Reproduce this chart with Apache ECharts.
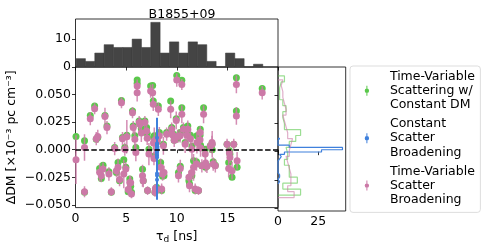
<!DOCTYPE html>
<html><head><meta charset="utf-8">
<script src="https://cdn.jsdelivr.net/npm/echarts@6/dist/echarts.min.js"></script>
<style>html,body{margin:0;padding:0;background:#fff}#c{width:490px;height:249px}</style>
</head><body><div id="c"></div>
<script>
// ---- data ----
const tauD = [0.05,0.89,0.89,1.46,1.89,2.05,2.38,2.72,2.55,2.91,3.11,3.54,3.87,4.04,4.2,4.54,4.64,4.77,4.97,5.2,
  5.36,5.53,4.87,5.63,5.7,5.86,5.96,6.09,6.09,6.29,6.36,6.62,6.69,6.85,7.02,7.12,7.25,7.42,7.62,7.68,
  7.78,7.85,8.01,8.18,8.28,8.41,8.51,8.68,8.74,9.0,9.4,9.5,9.67,10.0,10.17,10.33,10.5,10.66,10.83,11.09,
  11.26,11.49,11.66,11.82,11.99,12.15,12.32,12.48,12.65,12.81,12.98,13.31,13.48,13.81,14.97,15.13,15.46,15.63,15.89,15.89,
  15.96,18.44,5.07,7.08,8.1,9.95,10.5,11.0,9.55,9.75,10.1,11.35,11.5,12.3,12.35,13.5,15.2,15.25,11.95,12.85,
  13.6,10.35,7.7,7.75,8.6,7.9,3.3,2.2,6.5,4.35,5.45,11.2];
const dmGreen = [0.012,-0.0386,0.008,0.031,0.0395,0.0095,-0.017,-0.014,-0.026,0.031,0.0215,-0.0386,0.002,-0.0206,-0.0115,0.0446,0.011,-0.009,-0.016,-0.038,
  -0.0266,-0.0386,0.002,0.035,0.0215,0.0125,0.002,0.060,0.063,0.026,0.0245,-0.0176,-0.028,0.026,0.020,-0.037,0.0005,0.0575,0.058,0.044,
  0.0125,-0.0386,-0.034,0.0395,0.0155,-0.0115,-0.037,0.005,-0.0236,0.0155,0.044,0.020,0.014,0.067,-0.0206,0.0155,0.038,0.020,0.0065,0.0215,
  -0.031,-0.0236,-0.010,-0.037,0.0125,-0.037,0.0185,-0.0146,0.038,0.0005,-0.0146,0.0035,0.005,-0.014,0.005,-0.0115,-0.025,0.005,0.035,0.065,
  -0.016,0.0554,0.013,0.0147,0.0127,0.028,0.0627,0.0147,0.0147,0.0085,0.0103,0.013,0.003,0.013,0.004,0.0,-0.001,-0.004,-0.011,-0.016,
  -0.011,-0.015,0.011,-0.006,-0.024,-0.036,-0.020,0.011,0.019,-0.028,-0.033,-0.028];
const dmPink = [-0.009,-0.038,0.002,0.028,0.037,0.010,-0.0205,-0.0175,-0.0235,0.030,0.020,-0.038,0.001,-0.019,-0.016,0.0425,0.010,-0.022,-0.0175,-0.036,
  -0.0296,-0.040,0.0005,0.0335,0.020,0.0095,-0.0025,0.0575,0.0515,0.0245,0.023,-0.0236,-0.028,0.0245,0.017,-0.037,-0.004,0.053,0.0515,0.041,
  0.008,-0.0386,-0.0365,0.0365,0.0125,-0.016,-0.0356,0.0035,-0.0206,0.014,0.0365,0.0185,0.0125,0.063,-0.0236,0.0125,0.032,0.0185,0.005,0.0185,
  -0.0326,-0.0206,-0.016,-0.0356,0.0065,-0.037,0.0155,-0.0146,0.032,-0.004,-0.015,0.003,0.0065,-0.0146,0.005,-0.017,-0.019,0.005,0.0305,0.059,
  -0.010,0.0515,0.0118,0.0103,0.008,0.0265,0.059,0.013,0.0138,0.0085,0.012,0.010,0.0005,0.009,0.0015,0.005,-0.003,-0.007,-0.013,-0.012,
  -0.013,-0.017,0.006,-0.008,-0.022,-0.035,-0.022,0.012,0.015,-0.027,-0.030,-0.025];
const errPink = [0.022,0.005,0.012,0.006,0.005,0.006,0.008,0.006,0.006,0.008,0.006,0.004,0.006,0.006,0.008,0.005,0.006,0.013,0.006,0.005,
  0.006,0.004,0.006,0.005,0.006,0.01,0.008,0.006,0.008,0.006,0.006,0.01,0.006,0.006,0.008,0.004,0.01,0.006,0.008,0.006,
  0.012,0.004,0.005,0.006,0.008,0.008,0.005,0.008,0.006,0.006,0.008,0.006,0.006,0.006,0.006,0.006,0.008,0.006,0.008,0.008,
  0.006,0.006,0.012,0.005,0.01,0.004,0.006,0.006,0.008,0.006,0.006,0.006,0.006,0.006,0.005,0.008,0.008,0.005,0.008,0.008,
  0.008,0.006,0.015,0.006,0.006,0.008,0.005,0.006,0.006,0.006,0.006,0.008,0.01,0.006,0.008,0.012,0.005,0.005,0.006,0.008,
  0.006,0.008,0.006,0.006,0.006,0.004,0.006,0.006,0.008,0.006,0.006,0.006];
const errGreen = 0.002;
const tauBlue = 8.05;
const dmBlue = [0.0108,0.0047,0.0042,0.0051,0.0039,0.0044,0.0055,0.0033,0.0031,0.0029,0.0027,0.0036,0.0024,0.0022,0.0035,0.0020,0.0030,0.0026,0.0019,0.0034,
  0.0023,0.0028,0.0032,0.0021,0.0025,0.0018,0.0029,0.0033,0.0024,0.0027,0.0015,0.0012,0.0009,0.0011,0.0006,0.0004,0.0013,0.0008,0.0002,0.0000,
  0.0010,0.0007,0.0014,0.0003,0.0005,-0.0008,-0.0012,-0.0017,-0.0030,-0.0048,-0.0055,-0.0071,-0.0215,-0.0234,-0.0272];
const errBlue = [0.018,0.006,0.005,0.006,0.005,0.005,0.006,0.005,0.004,0.005,0.004,0.005,0.005,0.004,0.005,0.004,0.005,0.004,0.005,0.004,
  0.005,0.004,0.005,0.004,0.005,0.004,0.005,0.004,0.005,0.004,0.005,0.006,0.005,0.006,0.005,0.006,0.005,0.006,0.006,0.006,
  0.005,0.006,0.005,0.006,0.006,0.007,0.007,0.008,0.008,0.009,0.009,0.01,0.012,0.015,0.018];
const tauHistRange = [0.06, 18.5];
const tauHistCounts = [3,2,5,8,7,7,10,7,16,5,9,5,9,8,2,0,5,3,0,1];
const greenHistRange = [-0.0383, 0.0669];
const greenHistCounts = [14,3,12,7,7,4,6,5,7,11,14,4,3,3,5,3,1,1,2,4];
const pinkHistRange = [-0.0405, 0.0635];
const pinkHistCounts = [10,6,8,8,7,6,5,7,8,9,6,5,4,3,5,4,3,3,2,3];
const blueHistRange = [-0.0285, 0.0118];
const blueHistCounts = [1,0,1,1,0,0,0,0,0,0,1,2,1,4,27,40,7,0,0,1];
const yTicks = [-0.05,-0.025,0,0.025,0.05];
const names = ['Time-Variable Scattering w/ Constant DM','Constant Scatter Broadening','Time-Variable Scatter Broadening'];
const legendText = ['Time-Variable\nScattering w/\nConstant DM','Constant\nScatter\nBroadening','Time-Variable\nScatter\nBroadening'];

// ---- helpers ----
const GREEN='#5ac84b', BLUE='#3f80dc', PINK='#cc79a7';
const FONT='DejaVu Sans', FS=12.5;
function steps(range, counts){
  const n=counts.length, w=(range[1]-range[0])/n, pts=[[0,range[0]]];
  counts.forEach((c,i)=>{pts.push([c,range[0]+i*w]);pts.push([c,range[0]+(i+1)*w]);});
  pts.push([0,range[1]]);
  return pts;
}
function errRender(color, lw){
  return function(params, api){
    const x=api.value(0), y=api.value(1), e=api.value(2);
    const a=api.coord([x,y+e]), b=api.coord([x,y-e]);
    return {type:'line', shape:{x1:a[0],y1:a[1],x2:b[0],y2:b[1]}, style:{stroke:color,lineWidth:lw}};
  };
}
const greenErr = tauD.map((t,i)=>[t,dmGreen[i],errGreen]);
const pinkErr = tauD.map((t,i)=>[t,dmPink[i],errPink[i]]);
const blueErr = dmBlue.map((d,i)=>[tauBlue,d,errBlue[i]]);
const tauW=(tauHistRange[1]-tauHistRange[0])/tauHistCounts.length;
const tauBars = tauHistCounts.map((c,i)=>[tauHistRange[0]+i*tauW, tauHistRange[0]+(i+1)*tauW, c]);

const axisCommon = {axisLine:{show:false}, splitLine:{show:false},
  axisTick:{length:3.5, lineStyle:{color:'#000',width:0.8}},
  axisLabel:{color:'#000', fontFamily:FONT, fontSize:FS, margin:4.5}};
const YMIN=-0.0524, YMAX=0.0748;
const icon='path://M1.7,0h1v10h-1z M4.4,5A2.2,2.2 0 1 1 0,5A2.2,2.2 0 1 1 4.4,5Z';

const chart = echarts.init(document.getElementById('c'), null, {renderer:'canvas'});
chart.setOption({
  animation:false,
  backgroundColor:'#fff',
  textStyle:{fontFamily:FONT},
  title:{text:'B1855+09', left:177, top:3, textAlign:'center',
    textStyle:{fontFamily:FONT, fontSize:FS, fontWeight:'normal', color:'#000'}},
  grid:[
    {left:75.5, top:19, width:202.5, height:48, show:true, borderColor:'#000', borderWidth:0.8, backgroundColor:'transparent'},
    {left:75.5, top:67, width:202.5, height:144, show:true, borderColor:'#000', borderWidth:0.8, backgroundColor:'transparent'},
    {left:278, top:67, width:67.7, height:144, show:true, borderColor:'#000', borderWidth:0.8, backgroundColor:'transparent'}
  ],
  xAxis:[
    Object.assign({}, axisCommon, {gridIndex:0, type:'value', min:0, max:20, interval:5, axisLabel:{show:false}}),
    Object.assign({}, axisCommon, {gridIndex:1, type:'value', min:0, max:20, interval:5,
      axisLabel:Object.assign({}, axisCommon.axisLabel, {formatter:v=>v===20?'':String(v)}),
      name:'τ{sub|d} [ns]', nameLocation:'middle', nameGap:17,
      nameTextStyle:{fontFamily:FONT, fontSize:FS, color:'#000', rich:{sub:{fontFamily:FONT, fontSize:9, padding:[6,0,0,0], color:'#000'}}}}),
    Object.assign({}, axisCommon, {gridIndex:2, type:'value', min:0, max:42,
      axisTick:Object.assign({}, axisCommon.axisTick, {customValues:[0,25]}),
      axisLabel:Object.assign({}, axisCommon.axisLabel, {customValues:[0,25]})})
  ],
  yAxis:[
    Object.assign({}, axisCommon, {gridIndex:0, type:'value', min:0, max:17.2,
      axisTick:Object.assign({}, axisCommon.axisTick, {customValues:[0,10]}),
      axisLabel:Object.assign({}, axisCommon.axisLabel, {customValues:[0,10]})}),
    Object.assign({}, axisCommon, {gridIndex:1, type:'value', min:YMIN, max:YMAX,
      axisTick:Object.assign({}, axisCommon.axisTick, {customValues:yTicks}),
      axisLabel:Object.assign({}, axisCommon.axisLabel, {customValues:yTicks, formatter:v=>(v<0?'\u2212':'')+Math.abs(v).toFixed(3)}),
      name:'ΔDM [×10⁻³ pc cm⁻³]', nameLocation:'middle', nameGap:57,
      nameTextStyle:{fontFamily:FONT, fontSize:FS, color:'#000'}}),
    Object.assign({}, axisCommon, {gridIndex:2, type:'value', min:YMIN, max:YMAX,
      axisTick:Object.assign({}, axisCommon.axisTick, {customValues:yTicks}),
      axisLabel:{show:false}})
  ],
  legend:{
    orient:'vertical', left:350, top:66, padding:[3.5,5.5,5.5,14.7], itemGap:4.8,
    itemWidth:6, itemHeight:10, icon:icon,
    borderColor:'#d4d4d4', borderWidth:0.8, borderRadius:3,
    data:names,
    formatter:n=>legendText[names.indexOf(n)],
    textStyle:{fontFamily:FONT, fontSize:FS, color:'#000', lineHeight:14.2, padding:[0,0,0,15]}
  },
  series:[
    {type:'custom', name:'tauhist', xAxisIndex:0, yAxisIndex:0, data:tauBars, silent:true,
      renderItem:(p,api)=>{const a=api.coord([api.value(0),api.value(2)]), b=api.coord([api.value(1),0]);
        return {type:'rect', shape:{x:a[0],y:a[1],width:b[0]-a[0],height:b[1]-a[1]}, style:{fill:'#444444', stroke:'#3a3a3a', lineWidth:0.5}};}},
    {type:'custom', name:'gerr', xAxisIndex:1, yAxisIndex:1, data:greenErr, renderItem:errRender(GREEN,1.5), clip:true, silent:true, z:2},
    {type:'scatter', name:names[0], xAxisIndex:1, yAxisIndex:1, data:greenErr.map(d=>[d[0],d[1]]), symbolSize:7, itemStyle:{color:GREEN, opacity:1}, z:2,
      markLine:{silent:true, symbol:'none', label:{show:false}, data:[{yAxis:0}], lineStyle:{color:'#000', type:[5.5,2.4], width:1.5}, z:10}},
    {type:'custom', name:'perr', xAxisIndex:1, yAxisIndex:1, data:pinkErr, renderItem:errRender('rgba(204,121,167,0.85)',1.5), clip:true, silent:true, z:3},
    {type:'scatter', name:names[2], xAxisIndex:1, yAxisIndex:1, data:pinkErr.map(d=>[d[0],d[1]]), symbolSize:7, itemStyle:{color:PINK, opacity:1}, z:3},
    {type:'custom', name:'berr', xAxisIndex:1, yAxisIndex:1, data:blueErr, renderItem:errRender(BLUE,2), clip:true, silent:true, z:4},
    {type:'scatter', name:names[1], xAxisIndex:1, yAxisIndex:1, data:blueErr.map(d=>[d[0],d[1]]), symbolSize:4, itemStyle:{color:BLUE, opacity:1}, z:4},
    {type:'line', name:'gh', xAxisIndex:2, yAxisIndex:2, data:steps(greenHistRange,greenHistCounts), symbol:'none', lineStyle:{color:GREEN, width:1.2, opacity:0.6}, silent:true},
    {type:'line', name:'bh', xAxisIndex:2, yAxisIndex:2, data:steps(blueHistRange,blueHistCounts), symbol:'none', lineStyle:{color:BLUE, width:1.2}, silent:true},
    {type:'line', name:'ph', xAxisIndex:2, yAxisIndex:2, data:steps(pinkHistRange,pinkHistCounts), symbol:'none', lineStyle:{color:PINK, width:1.2, opacity:0.6}, silent:true}
  ]
});
</script></body></html>
